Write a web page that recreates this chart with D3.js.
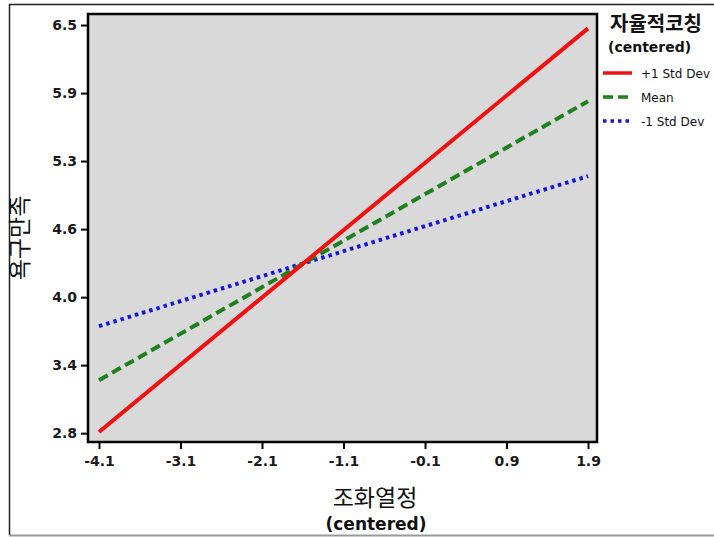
<!doctype html>
<html>
<head>
<meta charset="utf-8">
<title>Interaction plot</title>
<script src="https://cdn.jsdelivr.net/npm/d3@7"></script>
<style>
  html, body { margin: 0; padding: 0; background: #fff; }
  svg { display: block; }
  .tick-label { font-family: "DejaVu Sans", sans-serif; font-weight: bold; font-size: 14px; fill: #1a1a1a; }
  .kr { font-family: "Noto Sans CJK KR", sans-serif; }
</style>
</head>
<body>
<div id="chart"></div>
<script>
// data
var xValues = [-4.1, 1.9];
var plusSD = [2.81, 6.47];
var meanLine = [3.28, 5.81];
var minusSD = [3.77, 5.13];
var xTicks = [-4.1, -3.1, -2.1, -1.1, -0.1, 0.9, 1.9];
var xTickLabels = ["-4.1", "-3.1", "-2.1", "-1.1", "-0.1", "0.9", "1.9"];
// y ticks are evenly spaced between 2.8 and 6.5, labels rounded
var yTicks = [2.8, 3.417, 4.033, 4.65, 5.267, 5.883, 6.5];
var yTickLabels = ["2.8", "3.4", "4.0", "4.6", "5.3", "5.9", "6.5"];
var seriesNames = ["+1 Std Dev", "Mean", "-1 Std Dev"];

var W = 714, H = 537;
var svg = d3.select("#chart").append("svg")
    .attr("width", W)
    .attr("height", H);

// outer frame of the picture
svg.append("line").attr("x1", 9).attr("y1", 4.5).attr("x2", W).attr("y2", 4.5)
    .style("stroke", "#222").style("stroke-width", 1.5);
svg.append("line").attr("x1", 9.5).attr("y1", 4).attr("x2", 9.5).attr("y2", 535)
    .style("stroke", "#222").style("stroke-width", 1.5);
svg.append("line").attr("x1", 9).attr("y1", 535.5).attr("x2", W).attr("y2", 535.5)
    .style("stroke", "#999").style("stroke-width", 2);

var x = d3.scaleLinear().domain([-4.235, 2.01]).range([88, 597]);
var y = d3.scaleLinear().domain([2.72, 6.6]).range([442, 14]);

// plot area
svg.append("rect")
    .attr("x", x.range()[0]).attr("y", y.range()[1])
    .attr("width", x.range()[1] - x.range()[0])
    .attr("height", y.range()[0] - y.range()[1])
    .style("fill", "#d9d9d9")
    .style("stroke", "#000")
    .style("stroke-width", 2.5);

// axes
var xAxis = svg.append("g")
    .attr("transform", "translate(0," + y.range()[0] + ")")
    .call(d3.axisBottom(x).tickValues(xTicks).tickSize(7).tickPadding(7)
        .tickFormat(function (d, i) { return xTickLabels[i]; }));
var yAxis = svg.append("g")
    .attr("transform", "translate(" + x.range()[0] + ",0)")
    .call(d3.axisLeft(y).tickValues(yTicks).tickSize(7).tickPadding(4)
        .tickFormat(function (d, i) { return yTickLabels[i]; }));

[xAxis, yAxis].forEach(function (a) {
    a.select(".domain").remove();
    a.selectAll(".tick line").style("stroke", "#000").style("stroke-width", 2);
    a.selectAll(".tick text").attr("class", "tick-label");
});

// lines
var series = [
    { name: seriesNames[0], values: plusSD, color: "#f01010", dash: null },
    { name: seriesNames[1], values: meanLine, color: "#1f801f", dash: "10,5" },
    { name: seriesNames[2], values: minusSD, color: "#1515d5", dash: "3.5,4" }
];

var line = d3.line()
    .x(function (d) { return x(d[0]); })
    .y(function (d) { return y(d[1]); });

svg.append("g").selectAll("path")
    .data(series.slice().reverse())
    .enter()
    .append("path")
    .attr("d", function (s) {
        return line(xValues.map(function (v, i) { return [v, s.values[i]]; }));
    })
    .style("fill", "none")
    .style("stroke", function (s) { return s.color; })
    .style("stroke-width", 4)
    .style("stroke-dasharray", function (s) { return s.dash; });

// axis titles
svg.append("text")
    .attr("class", "kr")
    .attr("transform", "translate(28,238) rotate(-90)")
    .attr("text-anchor", "middle")
    .style("font-size", "23px")
    .style("fill", "#111")
    .text("욕구만족");

svg.append("text")
    .attr("class", "kr")
    .attr("x", 375).attr("y", 506)
    .attr("text-anchor", "middle")
    .style("font-size", "23px")
    .style("fill", "#111")
    .text("조화열정");

svg.append("text")
    .attr("x", 376).attr("y", 530)
    .attr("text-anchor", "middle")
    .style("font-family", "DejaVu Sans, sans-serif")
    .style("font-weight", "bold")
    .style("font-size", "17px")
    .style("fill", "#111")
    .text("(centered)");

// legend
var legend = svg.append("g");
legend.append("text")
    .attr("class", "kr")
    .attr("x", 610).attr("y", 31)
    .style("font-size", "20px")
    .style("font-weight", "bold")
    .style("fill", "#111")
    .text("자율적코칭");
legend.append("text")
    .attr("x", 608).attr("y", 52)
    .style("font-family", "DejaVu Sans, sans-serif")
    .style("font-weight", "bold")
    .style("font-size", "14px")
    .style("fill", "#111")
    .text("(centered)");

var item = legend.selectAll("g.item")
    .data(series)
    .enter()
    .append("g")
    .attr("class", "item")
    .attr("transform", function (d, i) { return "translate(0," + (73 + i * 24) + ")"; });
item.append("line")
    .attr("x1", 603).attr("x2", 632)
    .style("stroke", function (d) { return d.color; })
    .style("stroke-width", 3.5)
    .style("stroke-dasharray", function (d) { return d.dash; });
item.append("text")
    .attr("x", 641).attr("y", 4.5)
    .style("font-family", "DejaVu Sans, sans-serif")
    .style("font-size", "12px")
    .style("fill", "#111")
    .text(function (d) { return d.name; });
</script>
</body>
</html>
